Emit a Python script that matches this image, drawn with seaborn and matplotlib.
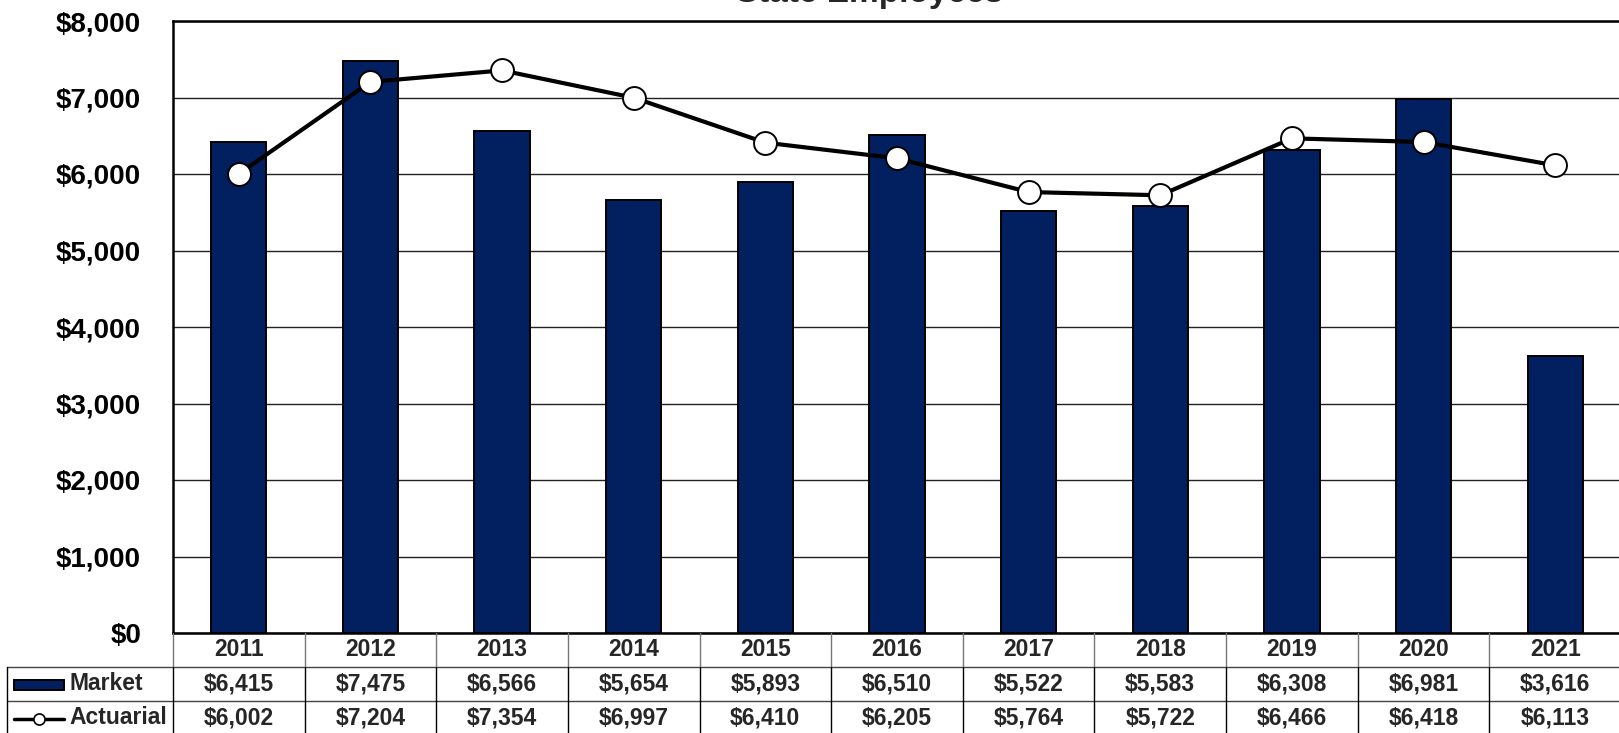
import matplotlib
matplotlib.use("Agg")
import matplotlib.pyplot as plt
import matplotlib.transforms as mtransforms
from matplotlib.lines import Line2D
from matplotlib.patches import Rectangle
import numpy as np
import pandas as pd
import seaborn as sns

# Data
years = ["2011", "2012", "2013", "2014", "2015", "2016", "2017", "2018", "2019", "2020", "2021"]
market = [6415, 7475, 6566, 5654, 5893, 6510, 5522, 5583, 6308, 6981, 3616]
actuarial = [6002, 7204, 7354, 6997, 6410, 6205, 5764, 5722, 6466, 6418, 6113]
y_ticks = [0, 1000, 2000, 3000, 4000, 5000, 6000, 7000, 8000]
series_names = ["Market", "Actuarial"]
title = "State Employees"

sns.set_theme(style="white")
plt.rcParams["font.family"] = ["Liberation Sans", "DejaVu Sans"]
plt.rcParams["font.weight"] = "bold"

W, H = 1619, 733
fig = plt.figure(figsize=(W / 100, H / 100), dpi=100)

# axes geometry in pixels
ax_left, ax_right, ax_top, ax_bottom = 173, 1621, 21, 633
ax = fig.add_axes([ax_left / W, 1 - ax_bottom / H, (ax_right - ax_left) / W, (ax_bottom - ax_top) / H])

NAVY = "#022060"
df = pd.DataFrame({"year": years, "market": market})
sns.barplot(data=df, x="year", y="market", ax=ax, color=NAVY, width=0.42,
            edgecolor="black", linewidth=1.4, saturation=1, zorder=2)

x = np.arange(len(years))
ax.plot(x, actuarial, color="black", lw=3.0, zorder=3, marker="o", markersize=16.5,
        markerfacecolor="white", markeredgecolor="black", markeredgewidth=1.4)

ax.set_xlim(-0.5, len(years) - 0.5)
ax.set_ylim(0, 8000)
ax.set_yticks(y_ticks)
ax.set_yticklabels([f"${v:,}" for v in y_ticks], fontsize=20, fontweight="bold", color="black")
ax.set_xticks([])
ax.set_xlabel("")
ax.set_ylabel("")
ax.tick_params(axis="y", length=0, pad=23)
ax.yaxis.grid(True, color="#222222", lw=1.0, zorder=0)
ax.set_axisbelow(True)
for side in ["left", "bottom", "top"]:
    ax.spines[side].set_visible(True)
    ax.spines[side].set_color("black")
    ax.spines[side].set_linewidth(1.8)
ax.spines["right"].set_visible(False)

# title sits above the plot frame
fig.text(870 / W, 1 - 2 / H, title, ha="center", va="baseline", fontsize=24, fontweight="bold")

# data table under the plot
unit = (ax_right - ax_left) / len(years)
def px_to_data(px):
    return -0.5 + (px - ax_left) / unit

def fy(py):
    return 1 - py / H

trans = mtransforms.blended_transform_factory(ax.transData, fig.transFigure)
x_tab_left = px_to_data(7)
row_centers = [650, 684, 718]
n = len(years)
fs_tab = 16.5

# horizontal rules
fig.add_artist(Line2D([x_tab_left, n - 0.5], [fy(667)] * 2, transform=trans, color="#444444", lw=1.0))
fig.add_artist(Line2D([x_tab_left, n - 0.5], [fy(701)] * 2, transform=trans, color="#444444", lw=1.0))
# vertical rules
for i in range(n + 1):
    xv = i - 0.5
    fig.add_artist(Line2D([xv, xv], [fy(633), fy(667)], transform=trans, color="#777777", lw=1.0))
    fig.add_artist(Line2D([xv, xv], [fy(667), fy(733)], transform=trans, color="black", lw=1.0))
fig.add_artist(Line2D([x_tab_left, x_tab_left], [fy(667), fy(733)], transform=trans, color="black", lw=1.0))

for i, yr in enumerate(years):
    fig.text(i, fy(row_centers[0]), yr, transform=trans, ha="center", va="center",
             fontsize=fs_tab, fontweight="bold")
    fig.text(i, fy(row_centers[1]), f"${market[i]:,}", transform=trans, ha="center", va="center",
             fontsize=fs_tab, fontweight="bold")
    fig.text(i, fy(row_centers[2]), f"${actuarial[i]:,}", transform=trans, ha="center", va="center",
             fontsize=fs_tab, fontweight="bold")

# legend keys inside the table's first column
fig.add_artist(Rectangle((14 / W, fy(690)), 50 / W, 10 / H, transform=fig.transFigure,
                         facecolor=NAVY, edgecolor="black", lw=1.4))
fig.add_artist(Line2D([14 / W, 64 / W], [fy(719)] * 2, transform=fig.transFigure, color="black", lw=2.5))
fig.add_artist(Line2D([39 / W], [fy(719)], transform=fig.transFigure, marker="o", markersize=8,
                      markerfacecolor="white", markeredgecolor="black", markeredgewidth=1.2))
fig.text(69 / W, fy(row_centers[1]), series_names[0], ha="left", va="center", fontsize=fs_tab, fontweight="bold")
fig.text(69 / W, fy(row_centers[2]), series_names[1], ha="left", va="center", fontsize=fs_tab, fontweight="bold")

fig.savefig("out.png", dpi=100, facecolor="white")
